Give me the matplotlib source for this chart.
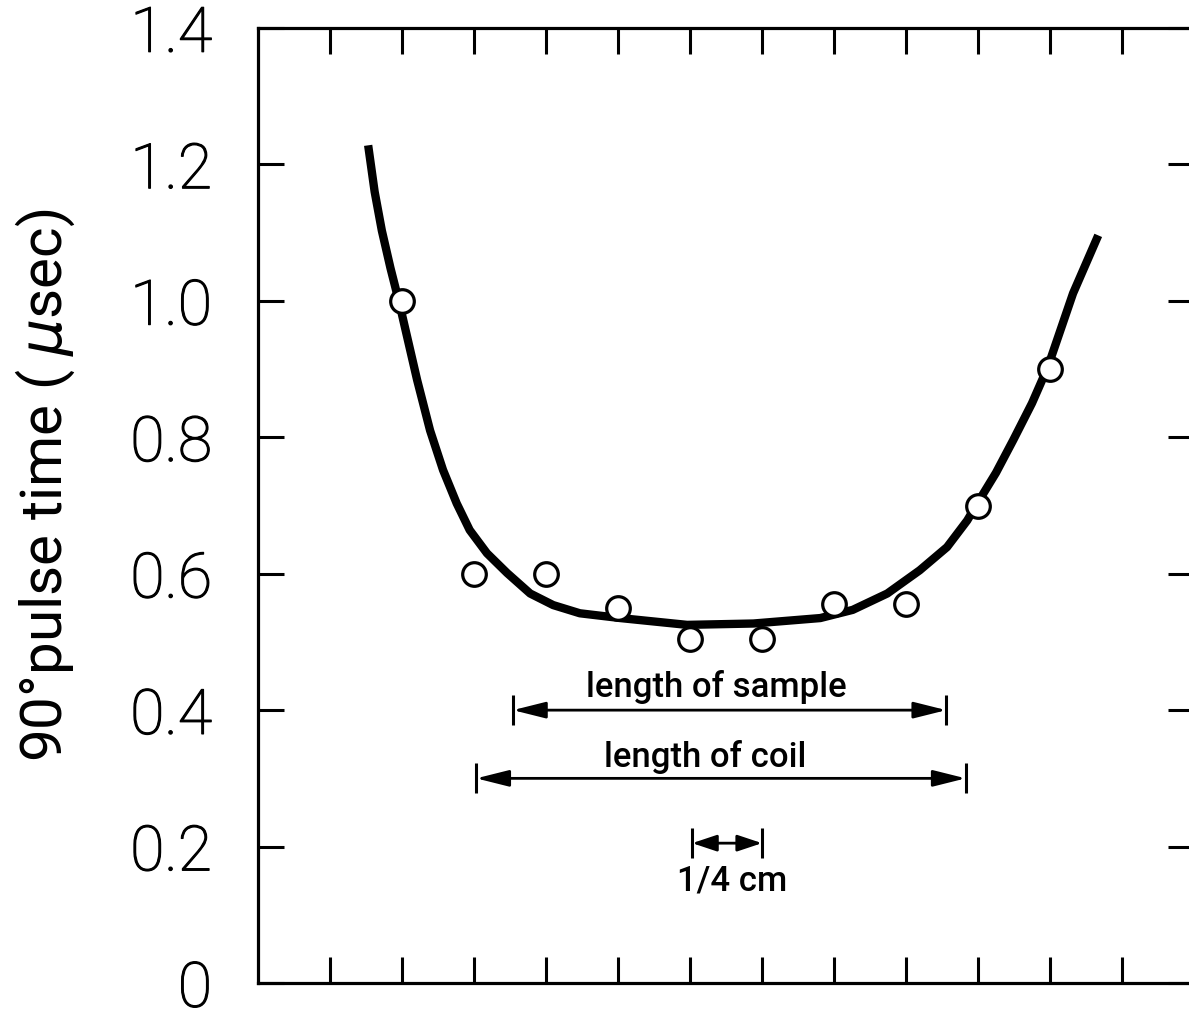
import matplotlib
matplotlib.use("Agg")
import matplotlib.pyplot as plt
import matplotlib.patheffects as pe

# measured 90 degree pulse times along the coil
pos = [2, 3, 4, 5, 6, 7, 8, 9, 10, 11]
pulse = [1.0, 0.6, 0.6, 0.55, 0.505, 0.505, 0.555, 0.555, 0.70, 0.90]

# hand drawn trend line
curve_x = [1.53, 1.62, 1.72, 1.84, 1.96, 2.21, 2.39, 2.57, 2.76, 2.94, 3.18, 3.46, 3.78,
           4.10, 4.47, 5.03, 5.96, 6.88, 7.81, 8.26, 8.74, 9.19, 9.57, 9.85,
           9.99, 10.25, 10.49, 10.75, 10.97, 11.32, 11.67]
curve_y = [1.228, 1.160, 1.103, 1.048, 0.998, 0.884, 0.810, 0.752, 0.703, 0.664, 0.630,
           0.601, 0.571, 0.554, 0.542, 0.535, 0.525, 0.527, 0.535, 0.547, 0.571, 0.605,
           0.639, 0.678, 0.703, 0.748, 0.796, 0.850, 0.903, 1.011, 1.096]

yticks = [0, 0.2, 0.4, 0.6, 0.8, 1.0, 1.2, 1.4]
ylabels = ["0", "0.2", "0.4", "0.6", "0.8", "1.0", "1.2", "1.4"]
xticks = list(range(1, 13))

# dimension arrows: (x0, x1, y, text, text x, text y)
spans = [
    (3.54, 9.56, 0.400, "length of sample", 6.36, 0.419),
    (3.03, 9.83, 0.300, "length of coil", 6.21, 0.317),
    (6.03, 7.00, 0.205, "1/4 cm", 6.58, 0.136),
]

W, H = 1189, 1011
fig = plt.figure(figsize=(W / 100, H / 100), dpi=100)
ax = fig.add_axes([258 / W, 28 / H, 936 / W, 955 / H])
ax.set_xlim(0, 13)
ax.set_ylim(0, 1.4)

for s in ax.spines.values():
    s.set_linewidth(2.3)
ax.spines["right"].set_visible(False)

ax.set_xticks(xticks)
ax.set_yticks(yticks)
ax.set_yticklabels(ylabels)
ax.tick_params(axis="x", direction="in", top=True, bottom=True,
               labelbottom=False, length=19, width=2.2)
ax.tick_params(axis="y", direction="in", left=True, right=True,
               length=19, width=2.2, pad=33, labelsize=45)
for lab in ax.get_yticklabels():
    lab.set_fontfamily("Roboto")
    lab.set_fontweight("light")
    lab.set_path_effects([pe.withStroke(linewidth=0.9, foreground="black")])

ax.plot(curve_x, curve_y, color="black", lw=6, solid_capstyle="butt",
        solid_joinstyle="round", zorder=2)
ax.plot(pos, pulse, "o", ms=17, mfc="white", mec="black", mew=2.3, zorder=3)

for x0, x1, y, txt, tx, ty in spans:
    hl = 2.0 if x1 - x0 > 2 else 1.5
    ax.annotate("", xy=(x1, y), xytext=(x0, y),
                arrowprops=dict(arrowstyle=f"<|-|>,head_length={hl},head_width=0.5",
                                color="black", lw=2, shrinkA=0, shrinkB=0))
    ax.vlines([x0, x1], y - 0.022, y + 0.022, color="black", lw=2.2)
    ax.text(tx, ty, txt, ha="center", va="baseline", fontsize=25,
            family="Roboto", fontweight="medium")

fig.text(45 / W, 1 - 485 / H, "90°pulse time ( $\\mu$sec)", rotation=90,
         ha="center", va="center", fontsize=42, family="Roboto")

fig.savefig("out.png", dpi=100)
